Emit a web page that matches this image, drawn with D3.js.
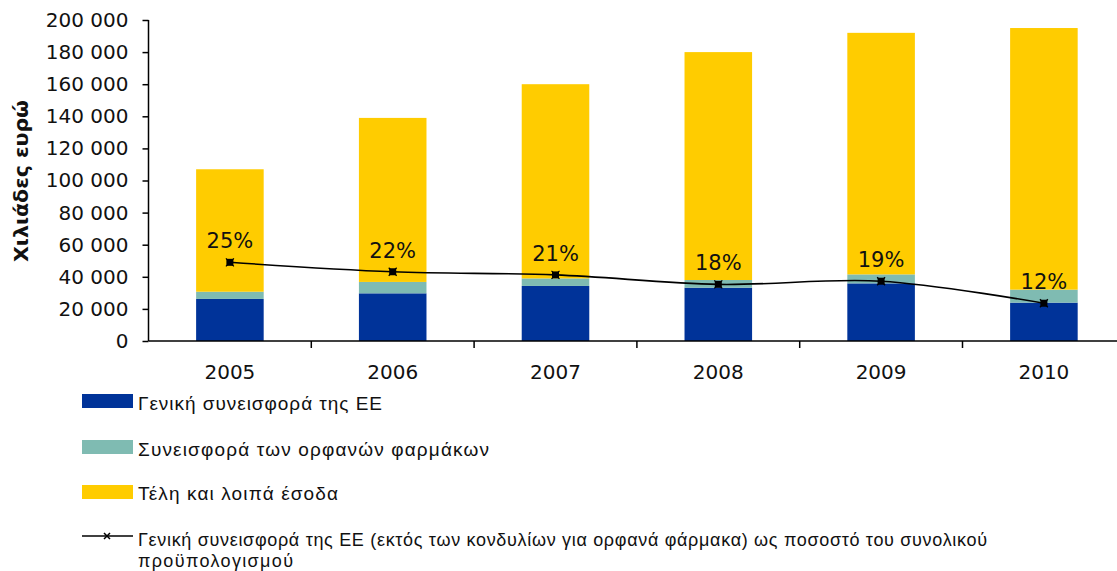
<!DOCTYPE html>
<html>
<head>
<meta charset="utf-8">
<script src="https://cdn.jsdelivr.net/npm/d3@7"></script>
<style>
  html, body { margin: 0; padding: 0; background: #fff; }
  svg { display: block; }
  .tick text { font-family: "DejaVu Sans", Verdana, sans-serif; }
</style>
</head>
<body>
<svg id="chart" width="1117" height="571"></svg>
<script>
// Budget by year, thousands of euro
const years = ["2005", "2006", "2007", "2008", "2009", "2010"];
const euContribution = [26200, 29700, 34300, 33200, 35900, 23900];
const orphanContribution = [4500, 7100, 4700, 4800, 5600, 8100];
const feesAndOther = [76300, 102200, 121000, 142000, 150500, 163000];
// EU contribution (excl. orphan medicines) as share of total budget, %
const euShare = [25, 22, 21, 18, 19, 12];
const yTicks = [0, 20000, 40000, 60000, 80000, 100000, 120000, 140000, 160000, 180000, 200000];

const seriesNames = [
  "Γενική συνεισφορά της ΕΕ",
  "Συνεισφορά των ορφανών φαρμάκων",
  "Τέλη και λοιπά έσοδα"
];
const lineName = "Γενική συνεισφορά της ΕΕ (εκτός των κονδυλίων για ορφανά φάρμακα) ως ποσοστό του συνολικού";
const lineName2 = "προϋπολογισμού";
const colors = ["#003399", "#7fbbb2", "#ffcc00"];

const svg = d3.select("#chart");
const margin = { left: 148.5, top: 20, bottom: 341, right: 1125.3 };

const rows = years.map((y, i) => ({
  year: y,
  eu: euContribution[i],
  orphan: orphanContribution[i],
  fees: feesAndOther[i],
  share: euShare[i]
}));

const x = d3.scaleBand()
  .domain(years)
  .range([margin.left, margin.right])
  .paddingInner(0.585)
  .paddingOuter(0.2925);

const y = d3.scaleLinear().domain([0, 200000]).range([margin.bottom, margin.top]);
const yShare = d3.scaleLinear().domain([0, 102]).range([margin.bottom, margin.top]);

const stack = d3.stack().keys(["eu", "orphan", "fees"]);
const stacked = stack(rows);

// Stacked bars
svg.append("g").selectAll("g")
  .data(stacked)
  .join("g")
  .attr("fill", (d, i) => colors[i])
  .selectAll("rect")
  .data(d => d)
  .join("rect")
  .attr("x", d => x(d.data.year))
  .attr("width", x.bandwidth())
  .attr("y", d => y(d[1]))
  .attr("height", d => y(d[0]) - y(d[1]));

// Y axis
const yAxis = d3.axisLeft(y)
  .tickValues(yTicks)
  .tickSize(6)
  .tickPadding(14)
  .tickFormat(d => d3.format(",")(d).replace(/,/g, " "));
const gy = svg.append("g")
  .attr("transform", `translate(${margin.left},0)`)
  .call(yAxis);
gy.select(".domain").attr("stroke", "#000").attr("stroke-width", 1.5)
  .attr("d", `M0,${margin.top}V${margin.bottom}`);
gy.selectAll(".tick line").attr("stroke", "#000").attr("stroke-width", 1.5);
gy.selectAll(".tick text").attr("font-size", 20).attr("fill", "#111");

// X axis
const xAxis = d3.axisBottom(x).tickSize(0).tickPadding(24);
const gx = svg.append("g")
  .attr("transform", `translate(0,${margin.bottom})`)
  .call(xAxis);
gx.select(".domain").attr("stroke", "#000").attr("stroke-width", 1.5)
  .attr("d", `M${margin.left},0H1117`);
gx.selectAll(".tick text").attr("font-size", 20).attr("fill", "#111");

// Category separator ticks
const step = x.step();
svg.append("g").selectAll("line")
  .data(years.slice(0, -1))
  .join("line")
  .attr("x1", d => x(d) + x.bandwidth() / 2 + step / 2)
  .attr("x2", d => x(d) + x.bandwidth() / 2 + step / 2)
  .attr("y1", margin.bottom)
  .attr("y2", margin.bottom + 7)
  .attr("stroke", "#000")
  .attr("stroke-width", 1.5);

// Y axis title
svg.append("text")
  .attr("transform", `translate(28,181) rotate(-90)`)
  .attr("text-anchor", "middle")
  .attr("font-family", "DejaVu Sans, Verdana, sans-serif")
  .attr("font-weight", "bold")
  .attr("font-size", 19)
  .attr("textLength", 162)
  .attr("lengthAdjust", "spacingAndGlyphs")
  .attr("fill", "#111")
  .text("Χιλιάδες ευρώ");

// Share line (smoothed)
const cx = d => x(d.year) + x.bandwidth() / 2;
const line = d3.line()
  .x(cx)
  .y(d => yShare(d.share))
  .curve(d3.curveCatmullRom.alpha(0.5));
svg.append("path")
  .datum(rows)
  .attr("fill", "none")
  .attr("stroke", "#000")
  .attr("stroke-width", 1.6)
  .attr("d", line);

function marker(g, px, py) {
  g.append("rect")
    .attr("x", px - 3.5).attr("y", py - 3.5)
    .attr("width", 7).attr("height", 7)
    .attr("fill", "#000");
  g.append("path")
    .attr("d", `M${px - 4},${py - 4}L${px + 4},${py + 4}M${px + 4},${py - 4}L${px - 4},${py + 4}`)
    .attr("stroke", "#000").attr("stroke-width", 1.2);
}

const markers = svg.append("g");
rows.forEach(d => marker(markers, cx(d), yShare(d.share)));

// Share labels
svg.append("g").selectAll("text")
  .data(rows)
  .join("text")
  .attr("x", cx)
  .attr("y", d => yShare(d.share) - 14)
  .attr("text-anchor", "middle")
  .attr("font-family", "DejaVu Sans, Verdana, sans-serif")
  .attr("font-size", 21)
  .attr("fill", "#111")
  .text(d => d.share + "%");

// Legend
const legend = svg.append("g")
  .attr("font-family", "Liberation Sans, Arial, sans-serif")
  .attr("font-size", 19)
  .attr("fill", "#111");

const swatchY = [394, 440, 485];
const textY = [410, 456, 500];
const textW = [244, 351, 200];
seriesNames.forEach((name, i) => {
  legend.append("rect")
    .attr("x", 82).attr("y", swatchY[i])
    .attr("width", 51).attr("height", 14)
    .attr("fill", colors[i]);
  legend.append("text")
    .attr("x", 138).attr("y", textY[i])
    .attr("textLength", textW[i])
    .attr("lengthAdjust", "spacing")
    .text(name);
});

legend.append("line")
  .attr("x1", 82).attr("x2", 133)
  .attr("y1", 536).attr("y2", 536)
  .attr("stroke", "#000").attr("stroke-width", 1.6);
legend.append("path")
  .attr("d", "M104,533L110,539M110,533L104,539")
  .attr("stroke", "#000").attr("stroke-width", 1.5);
legend.append("text")
  .attr("x", 138).attr("y", 546)
  .attr("font-size", 18)
  .attr("textLength", 849)
  .attr("lengthAdjust", "spacing")
  .text(lineName);
legend.append("text")
  .attr("x", 138).attr("y", 566.5)
  .attr("font-size", 18)
  .attr("textLength", 155)
  .attr("lengthAdjust", "spacing")
  .text(lineName2);
</script>
</body>
</html>
